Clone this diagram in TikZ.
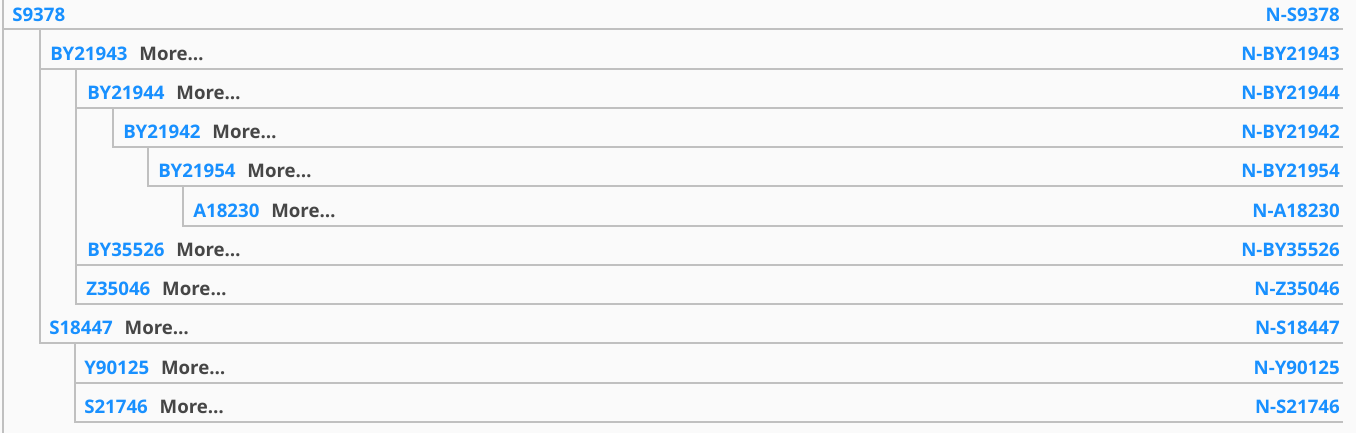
\documentclass[tikz,border=0pt]{standalone}
\usepackage{fontspec}
\setmainfont{Open Sans}
\usepackage{tikz}
\usetikzlibrary{positioning}
\definecolor{hapblue}{HTML}{1890FF}
\definecolor{moregray}{HTML}{464646}
\definecolor{rulegray}{HTML}{C0C0C0}
\definecolor{pagebg}{HTML}{FAFAFA}
\begin{document}
\begin{tikzpicture}[x=0.75pt,y=-0.75pt]
                    \tikzstyle{every node}+=[inner sep=0pt]
                    \tikzstyle{rule}=[draw=rulegray, line width=1.5pt]
                    \tikzstyle{hap}=[font=\bfseries\fontsize{14}{16}\selectfont, text=hapblue, anchor=base west]
                    \tikzstyle{napp}=[hap, anchor=base east]
                    \tikzstyle{more}=[font=\bfseries\fontsize{14}{16}\selectfont, text=moregray]
                    \fill [pagebg] (0,0) rectangle (1356,433);
                    \useasboundingbox (0,0) rectangle (1356,433);
                    \draw [rule] (3,0) -- (3,433);
                    \draw [rule] (3,29) -- (1343,29);
                    \draw [rule] (40,29) -- (40,343) -- (1343,343);
                    \draw [rule] (40,69) -- (1343,69);
                    \draw [rule] (76,69) -- (76,304) -- (1343,304);
                    \draw [rule] (76,108) -- (1343,108);
                    \draw [rule] (113,108) -- (113,147) -- (1343,147);
                    \draw [rule] (148,147) -- (148,186) -- (1343,186);
                    \draw [rule] (183,186) -- (183,226) -- (1343,226);
                    \draw [rule] (76,265) -- (1343,265);
                    \draw [rule] (75,343) -- (75,422) -- (1343,422);
                    \draw [rule] (75,383) -- (1343,383);
                    \node [hap] (s9378) at (12,21) {S9378};
                    \node [napp] (ns9378) at (1340,21) {N-S9378};
                    \node [hap] (by21943) at (50,60) {BY21943};
                    \node [more, base right=8.5pt of by21943] (by21943more) {More…};
                    \node [napp] (nby21943) at (1340,60) {N-BY21943};
                    \node [hap] (by21944) at (87,99) {BY21944};
                    \node [more, base right=8.5pt of by21944] (by21944more) {More…};
                    \node [napp] (nby21944) at (1340,99) {N-BY21944};
                    \node [hap] (by21942) at (123,138) {BY21942};
                    \node [more, base right=8.5pt of by21942] (by21942more) {More…};
                    \node [napp] (nby21942) at (1340,138) {N-BY21942};
                    \node [hap] (by21954) at (158,177) {BY21954};
                    \node [more, base right=8.5pt of by21954] (by21954more) {More…};
                    \node [napp] (nby21954) at (1340,177) {N-BY21954};
                    \node [hap] (a18230) at (193,217) {A18230};
                    \node [more, base right=8.5pt of a18230] (a18230more) {More…};
                    \node [napp] (na18230) at (1340,217) {N-A18230};
                    \node [hap] (by35526) at (87,256) {BY35526};
                    \node [more, base right=8.5pt of by35526] (by35526more) {More…};
                    \node [napp] (nby35526) at (1340,256) {N-BY35526};
                    \node [hap] (z35046) at (86,295) {Z35046};
                    \node [more, base right=8.5pt of z35046] (z35046more) {More…};
                    \node [napp] (nz35046) at (1340,295) {N-Z35046};
                    \node [hap] (s18447) at (49,334) {S18447};
                    \node [more, base right=8.5pt of s18447] (s18447more) {More…};
                    \node [napp] (ns18447) at (1340,334) {N-S18447};
                    \node [hap] (y90125) at (84,374) {Y90125};
                    \node [more, base right=8.5pt of y90125] (y90125more) {More…};
                    \node [napp] (ny90125) at (1340,374) {N-Y90125};
                    \node [hap] (s21746) at (84,413) {S21746};
                    \node [more, base right=8.5pt of s21746] (s21746more) {More…};
                    \node [napp] (ns21746) at (1340,413) {N-S21746};
                \end{tikzpicture}
\end{document}
